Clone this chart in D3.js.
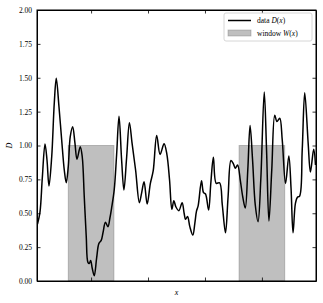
<!DOCTYPE html>
<html>
<head>
<meta charset="utf-8">
<script src="https://cdn.jsdelivr.net/npm/d3@7"></script>
<style>
  body { margin: 0; background: #fff; }
  svg text { font-family: "Liberation Serif", "DejaVu Serif", serif; }
</style>
</head>
<body>
<div id="chart"></div>
<script>
const width = 323;
const height = 303;

// data D(x)
const xs = [0.0118, 0.0205, 0.0286, 0.0381, 0.0451, 0.0521, 0.0616, 0.0707, 0.0777, 0.0872,
  0.0967, 0.1058, 0.1128, 0.1198, 0.1268, 0.1353, 0.1433, 0.1504, 0.1619, 0.1689,
  0.176, 0.183, 0.1889, 0.1935, 0.1984, 0.204, 0.2111, 0.2195, 0.2275, 0.2356,
  0.2416, 0.2504, 0.2591, 0.2661, 0.2721, 0.2812, 0.2896, 0.2981, 0.3072, 0.3153,
  0.3247, 0.3346, 0.344, 0.3563, 0.3696, 0.3774, 0.3861, 0.397, 0.4082, 0.4181,
  0.4304, 0.4423, 0.4563, 0.4661, 0.4756, 0.4837, 0.4907, 0.4977, 0.5082, 0.5198,
  0.5268, 0.5318, 0.5388, 0.5468, 0.5574, 0.5644, 0.5704, 0.576, 0.5879, 0.5949,
  0.6019, 0.6128, 0.6205, 0.6296, 0.6395, 0.6514, 0.6609, 0.6721, 0.6812, 0.6914,
  0.7002, 0.7065, 0.7146, 0.724, 0.7328, 0.7416, 0.7504, 0.7584, 0.7672, 0.7767,
  0.7865, 0.796, 0.8082, 0.8163, 0.8247, 0.8346, 0.8451, 0.8528, 0.8626, 0.8714,
  0.883, 0.8946, 0.9023, 0.9093, 0.9177, 0.9247, 0.9325, 0.9416, 0.9504, 0.9625,
  0.9704, 0.9819, 0.9882];
const ds = [0.421, 0.509, 0.760, 1.011, 0.893, 0.701, 0.915, 1.314, 1.496, 1.286,
  1.041, 0.819, 0.725, 0.844, 1.065, 1.139, 1.018, 0.898, 0.991, 0.917,
  0.622, 0.327, 0.137, 0.129, 0.151, 0.094, 0.039, 0.170, 0.278, 0.300,
  0.354, 0.433, 0.401, 0.465, 0.539, 0.672, 0.930, 1.215, 0.893, 0.672,
  0.908, 1.168, 1.016, 0.819, 0.578, 0.649, 0.732, 0.568, 0.721, 0.812,
  1.074, 0.934, 1.013, 0.937, 0.745, 0.529, 0.593, 0.548, 0.519, 0.578,
  0.500, 0.455, 0.476, 0.401, 0.339, 0.426, 0.517, 0.554, 0.740, 0.652,
  0.642, 0.524, 0.721, 0.913, 0.721, 0.725, 0.561, 0.356, 0.622, 0.889,
  0.863, 0.832, 0.856, 0.745, 0.620, 0.539, 0.819, 1.148, 0.893, 0.561,
  0.438, 0.745, 1.395, 0.967, 0.443, 0.819, 1.224, 1.177, 1.201, 1.041,
  0.720, 0.923, 0.686, 0.356, 0.573, 0.618, 0.627, 0.967, 1.390, 1.016,
  0.804, 0.972, 0.856];

// window W(x): intervals where it is 1
const windowStart = [0.12, 0.72];
const windowEnd = [0.28, 0.88];
const windowHeight = 1;

const xTicks = [0.2, 0.4, 0.6, 0.8];
const yTicks = [0, 0.25, 0.5, 0.75, 1.0, 1.25, 1.5, 1.75, 2.0];

const margin = {left: 37, right: 7, top: 10, bottom: 22};

const svg = d3.select("#chart")
    .append("svg")
    .attr("width", width)
    .attr("height", height);

const x = d3.scaleLinear()
    .domain([0.01, 0.99])
    .range([margin.left, width - margin.right]);
const y = d3.scaleLinear()
    .domain([0, 2])
    .range([height - margin.bottom, margin.top]);

svg.append("clipPath").attr("id", "clip")
    .append("rect")
    .attr("x", x.range()[0]).attr("y", y.range()[1])
    .attr("width", x.range()[1] - x.range()[0])
    .attr("height", y.range()[0] - y.range()[1]);

const plot = svg.append("g").attr("clip-path", "url(#clip)");

// windows
plot.selectAll("rect.win")
    .data(windowStart.map((s, i) => ({s: s, e: windowEnd[i]})))
    .enter()
    .append("rect")
    .attr("class", "win")
    .attr("x", d => x(d.s))
    .attr("y", y(windowHeight))
    .attr("width", d => x(d.e) - x(d.s))
    .attr("height", y(0) - y(windowHeight))
    .attr("fill", "#808080")
    .attr("fill-opacity", 0.5)
    .attr("stroke", "#808080")
    .attr("stroke-opacity", 0.5)
    .attr("stroke-width", 1);

// data line
const line = d3.line()
    .x((d, i) => x(xs[i]))
    .y(d => y(d))
    .curve(d3.curveCatmullRom.alpha(0.5));

plot.append("path")
    .attr("d", line(ds))
    .attr("fill", "none")
    .attr("stroke", "#000")
    .attr("stroke-width", 1.5);

// axes, ticks inward on all sides
const tickLen = 3.5;
svg.append("g")
    .attr("transform", "translate(0," + y(0) + ")")
    .call(d3.axisBottom(x).tickValues(xTicks).tickSizeInner(-tickLen).tickSizeOuter(0).tickFormat(""));
svg.append("g")
    .attr("transform", "translate(0," + y(2) + ")")
    .call(d3.axisTop(x).tickValues(xTicks).tickSizeInner(-tickLen).tickSizeOuter(0).tickFormat(""));
const yAxis = svg.append("g")
    .attr("transform", "translate(" + x.range()[0] + ",0)")
    .call(d3.axisLeft(y).tickValues(yTicks).tickSizeInner(-tickLen).tickSizeOuter(0)
        .tickFormat(d3.format(".2f")).tickPadding(5));
svg.append("g")
    .attr("transform", "translate(" + x.range()[1] + ",0)")
    .call(d3.axisRight(y).tickValues(yTicks).tickSizeInner(-tickLen).tickSizeOuter(0).tickFormat(""));

svg.selectAll(".domain").attr("stroke", "#000").attr("stroke-width", 1);
svg.selectAll(".tick line").attr("stroke", "#000").attr("stroke-width", 0.8);
yAxis.selectAll("text")
    .attr("font-size", 7.5)
    .attr("fill", "#000")
    .style("font-family", "Liberation Serif, serif");

// frame
svg.append("rect")
    .attr("x", x.range()[0]).attr("y", y.range()[1])
    .attr("width", x.range()[1] - x.range()[0])
    .attr("height", y.range()[0] - y.range()[1])
    .attr("fill", "none")
    .attr("stroke", "#000")
    .attr("stroke-width", 1);

// axis labels
svg.append("text")
    .attr("x", (x.range()[0] + x.range()[1]) / 2)
    .attr("y", 295)
    .attr("text-anchor", "middle")
    .attr("font-size", 8)
    .attr("font-style", "italic")
    .text("x");
svg.append("text")
    .attr("transform", "translate(12," + y(1) + ") rotate(-90)")
    .attr("text-anchor", "middle")
    .attr("font-size", 8)
    .attr("font-style", "italic")
    .text("D");

// legend
const leg = svg.append("g").attr("transform", "translate(224,13)");
leg.append("rect")
    .attr("width", 88).attr("height", 28)
    .attr("rx", 2)
    .attr("fill", "#fff").attr("fill-opacity", 0.8)
    .attr("stroke", "#ccc").attr("stroke-width", 0.8);
leg.append("line")
    .attr("x1", 4).attr("x2", 27).attr("y1", 7.5).attr("y2", 7.5)
    .attr("stroke", "#000").attr("stroke-width", 1.5);
leg.append("rect")
    .attr("x", 4).attr("y", 17).attr("width", 23).attr("height", 6)
    .attr("fill", "#808080").attr("fill-opacity", 0.5)
    .attr("stroke", "#808080").attr("stroke-opacity", 0.5).attr("stroke-width", 0.8);

const t1 = leg.append("text").attr("x", 33).attr("y", 10).attr("font-size", 7.5);
t1.append("tspan").text("data ");
t1.append("tspan").attr("font-style", "italic").text("D");
t1.append("tspan").text("(");
t1.append("tspan").attr("font-style", "italic").text("x");
t1.append("tspan").text(")");
const t2 = leg.append("text").attr("x", 33).attr("y", 22.5).attr("font-size", 7.5);
t2.append("tspan").text("window ");
t2.append("tspan").attr("font-style", "italic").text("W");
t2.append("tspan").text("(");
t2.append("tspan").attr("font-style", "italic").text("x");
t2.append("tspan").text(")");
</script>
</body>
</html>
